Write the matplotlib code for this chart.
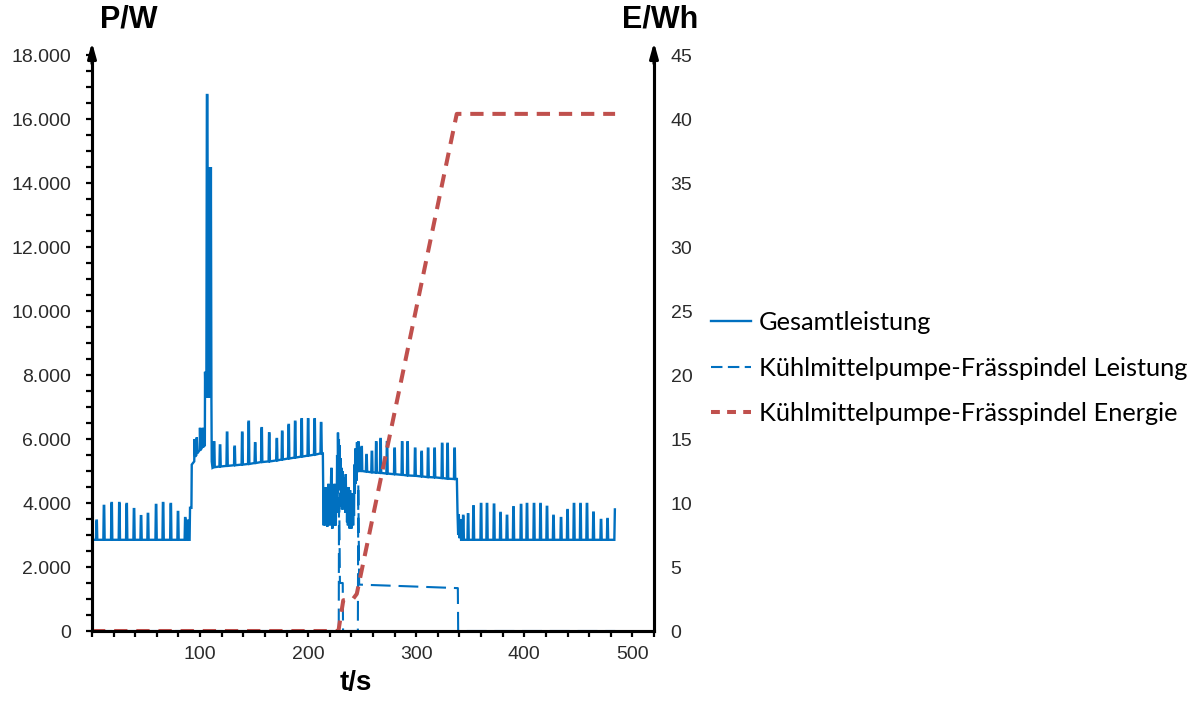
import matplotlib
matplotlib.use("Agg")
import matplotlib.pyplot as plt
from matplotlib.ticker import MultipleLocator, FixedLocator, FuncFormatter
from matplotlib.lines import Line2D

# ---------------------------------------------------------------- data
# idle phase before machining: periodic load peaks on a base level
idle1_t = [4.3, 11.1, 18.2, 25.3, 32.1, 38.9, 45.4, 51.8, 59.3, 65.8, 72.9, 79.6, 86.3, 88.6]
idle1_peak = [3450, 3910, 4000, 4000, 3970, 3810, 3590, 3660, 3940, 4000, 3970, 3720, 3530, 3450]
idle1_base = 2850

# ramp-up with the tool-change peak
ramp_t = [90.3, 90.7, 92.0, 92.3, 94.6, 94.9, 95.4, 96.6, 96.9, 97.4, 99.6, 99.9, 100.4,
          102.1, 102.4, 102.9, 104.4, 104.6, 105.0, 105.4, 105.8, 106.3, 106.8, 107.4,
          108.4, 108.8, 109.2, 109.6, 110.0, 110.5, 110.8, 111.5]
ramp_p = [2850, 3850, 3850, 5200, 5300, 6000, 5450, 5500, 6050, 5550, 5650, 6350, 5650,
          5750, 6350, 5750, 5800, 8100, 7300, 8100, 7300, 16750, 16750, 7300,
          14500, 7300, 14500, 7300, 14500, 7200, 5300, 5100]

# first machining plateau
cut1_t = [113, 118.5, 125, 132, 139, 145, 151, 157, 164, 171, 176, 182, 188, 194, 200, 206, 212]
cut1_peak = [5900, 5800, 6200, 5760, 6200, 6540, 5870, 6340, 6180, 6000, 6230, 6440, 6540,
             6620, 6620, 6620, 6500]
cut1_base = [5120, 5140, 5160, 5180, 5200, 5220, 5250, 5280, 5300, 5330, 5360, 5390, 5420,
             5450, 5480, 5510, 5550]

# switching phase while the coolant pump starts
trans_t = [213.6, 214.0, 214.4, 214.8, 215.2, 215.6, 216.0, 216.4, 216.8, 217.2, 217.6, 218.0,
           218.4, 218.8, 219.2, 219.6, 220.0, 220.4, 220.8, 221.2, 221.6, 222.0, 222.4, 222.8,
           223.2, 223.6, 224.0, 224.4, 224.8, 225.2, 225.6, 226.0, 226.4, 226.8, 227.2, 227.6,
           228.0, 228.4, 228.8, 229.2, 229.6, 230.0, 230.4, 230.8, 231.2, 231.6, 232.0, 232.4,
           232.8, 233.2, 233.6, 234.0, 234.4, 234.8, 235.2, 235.6, 236.0, 236.4, 236.8, 237.2,
           237.6, 238.0, 238.4, 238.8, 239.2, 239.6, 240.0, 240.4, 240.8, 241.2, 241.6, 242.0,
           242.4, 242.8, 243.2, 243.6, 244.0, 244.4, 244.8, 245.2, 245.6]
trans_p = [5550, 4200, 3300, 4400, 3600, 4300, 3300, 4500, 3500, 4000, 3250, 4400,
           3500, 4600, 3700, 4200, 3300, 4400, 3400, 4800, 5100, 3600, 3200, 4300,
           3500, 4400, 3300, 4600, 3600, 4100, 3300, 4500, 3700, 5500, 4300, 6200,
           4900, 6000, 4500, 5800, 4400, 5400, 3900, 5100, 3800, 5000, 4200, 4800,
           3800, 4700, 3900, 4600, 3700, 4900, 3800, 4500, 3400, 4400, 3300, 4500,
           3500, 4300, 3200, 4400, 3300, 4200, 3200, 4300, 3400, 4100, 3300, 4200,
           3600, 5200, 4300, 5700, 4600, 5500, 4700, 5900, 5000]

# second machining plateau
cut2_t = [246.5, 249.5, 254, 259, 263, 267, 273, 280, 287, 292, 299, 305, 311, 317, 324, 329, 335.5]
cut2_peak = [5900, 5750, 5500, 5600, 5900, 6000, 5900, 5700, 5900, 5900, 5700, 5600, 5700,
             5700, 5850, 5850, 5700]
cut2_base = [5000, 5000, 4980, 4960, 4950, 4940, 4920, 4900, 4880, 4860, 4850, 4830, 4810,
             4800, 4780, 4760, 4750]

# end of machining
drop_t = [336.8, 337.6, 338.2, 338.8, 339.4, 340.1, 340.8, 341.5]
drop_p = [4750, 4750, 3700, 3000, 3650, 2900, 3500, 2850]

# idle phase after machining
idle2_t = [343.5, 348, 353, 360, 365.5, 372, 378, 384, 390, 397, 402.5, 409, 415, 421, 427,
           434, 440, 446, 452, 458, 464, 471, 477]
idle2_peak = [3600, 3650, 3900, 3970, 3970, 3950, 3690, 3600, 3870, 3940, 3970, 3970, 3970,
              3880, 3600, 3530, 3780, 3970, 3970, 3970, 3700, 3470, 3500]
idle2_base = 2850
end_t = [483.3, 483.8]
end_p = [2850, 3800]

# coolant pump / milling spindle power [W]
pump_t = [0, 228.3, 228.6, 229.4, 232.0, 232.3, 246.0, 246.4, 247.2, 290, 338.5, 338.8, 484]
pump_p = [0, 0, 4800, 1500, 1500, 0, 0, 4600, 1450, 1400, 1340, 0, 0]

# coolant pump / milling spindle energy [Wh]
energy_t = [0, 228.0, 232.5, 241.5, 245.0, 337.5, 484]
energy_wh = [0, 0, 2.4, 2.5, 2.9, 40.4, 40.4]

x_labels = [100, 200, 300, 400, 500]
legend_labels = ['Gesamtleistung', 'Kühlmittelpumpe-Frässpindel Leistung',
                 'Kühlmittelpumpe-Frässpindel Energie']


# ---------------------------------------------------------------- helpers
def spike_train(times, peaks, bases, w=0.6):
    if not isinstance(bases, (list, tuple)):
        bases = [bases] * len(times)
    t, p = [], []
    for ti, pk, b in zip(times, peaks, bases):
        t += [ti - w, ti - 0.2, ti + 0.2, ti + w]
        p += [b, pk, pk, b]
    return t, p


parts = [([0.0], [idle1_base]),
         spike_train(idle1_t, idle1_peak, idle1_base),
         (ramp_t, ramp_p),
         spike_train(cut1_t, cut1_peak, cut1_base),
         (trans_t, trans_p),
         spike_train(cut2_t, cut2_peak, cut2_base),
         (drop_t, drop_p),
         spike_train(idle2_t, idle2_peak, idle2_base),
         (end_t, end_p)]
total_t, total_p = [], []
for a, b in parts:
    total_t += list(a)
    total_p += list(b)

# ---------------------------------------------------------------- figure
W, H = 1201, 704
plt.rcParams['font.family'] = ['Liberation Sans', 'DejaVu Sans']
fig = plt.figure(figsize=(W / 100, H / 100), dpi=100)

left, right, bottom, top = 92, 654, 631, 55
ax = fig.add_axes([left / W, 1 - bottom / H, (right - left) / W, (bottom - top) / H])
ax2 = ax.twinx()

blue = '#0070C0'
red = '#C0504D'
tick_col = '#2b2b2b'

ax.plot(total_t, total_p, color=blue, lw=1.7, solid_joinstyle='miter')
ax.plot(pump_t, pump_p, color=blue, lw=1.5, dashes=(9.5, 3.8))
ax2.plot(energy_t, energy_wh, color=red, lw=2.9, dashes=(3.3, 2.2), dash_capstyle='butt')

ax.set_xlim(0, 520)
ax.set_ylim(0, 18000)
ax2.set_ylim(0, 45)

for a in (ax, ax2):
    for s in a.spines.values():
        s.set_linewidth(2.2)
        s.set_color('black')
    a.spines['top'].set_visible(False)

ax.xaxis.set_major_locator(FixedLocator(x_labels))
ax.xaxis.set_minor_locator(MultipleLocator(20))
ax.yaxis.set_major_locator(MultipleLocator(2000))
ax.yaxis.set_minor_locator(MultipleLocator(500))
ax.yaxis.set_major_formatter(FuncFormatter(lambda v, p: f"{int(v):,}".replace(",", ".")))
ax2.yaxis.set_major_locator(MultipleLocator(5))

ax.tick_params(axis='x', which='both', direction='out', length=4, width=1.6,
               labelsize=14, pad=6.5, labelcolor=tick_col)
ax.tick_params(axis='y', which='both', direction='out', length=4, width=1.6,
               labelsize=14, pad=11, labelcolor=tick_col)
ax2.tick_params(axis='y', which='both', length=0, labelsize=14, pad=12, labelcolor=tick_col)

# arrow heads at the top of both value axes
for xa in (0, 1):
    ax.annotate('', xy=(xa, 1.022), xycoords='axes fraction',
                xytext=(xa, 0.985), textcoords='axes fraction',
                arrowprops=dict(arrowstyle='-|>,head_length=0.9,head_width=0.25',
                                color='black', lw=2.2, shrinkA=0, shrinkB=0),
                annotation_clip=False)

fig.text(129 / W, 1 - 19 / H, 'P/W', ha='center', va='center', fontsize=22, fontweight='bold')
fig.text(660 / W, 1 - 19 / H, 'E/Wh', ha='center', va='center', fontsize=22, fontweight='bold')
fig.text(356 / W, 1 - 683 / H, 't/s', ha='center', va='center', fontsize=20, fontweight='bold')

# legend
handles = [Line2D([], [], color=blue, lw=1.7),
           Line2D([], [], color=blue, lw=1.5, dashes=(5.5, 2.6)),
           Line2D([], [], color=red, lw=2.9, dashes=(2.2, 1.8))]
fig.legend(handles, legend_labels, loc='center left', bbox_to_anchor=(711 / W, 1 - 368 / H),
           frameon=False, prop={'family': 'Lato', 'size': 18.3}, handlelength=1.57,
           handletextpad=0.3, labelspacing=0.88, borderaxespad=0, borderpad=0)

fig.savefig('out.png', dpi=100)
